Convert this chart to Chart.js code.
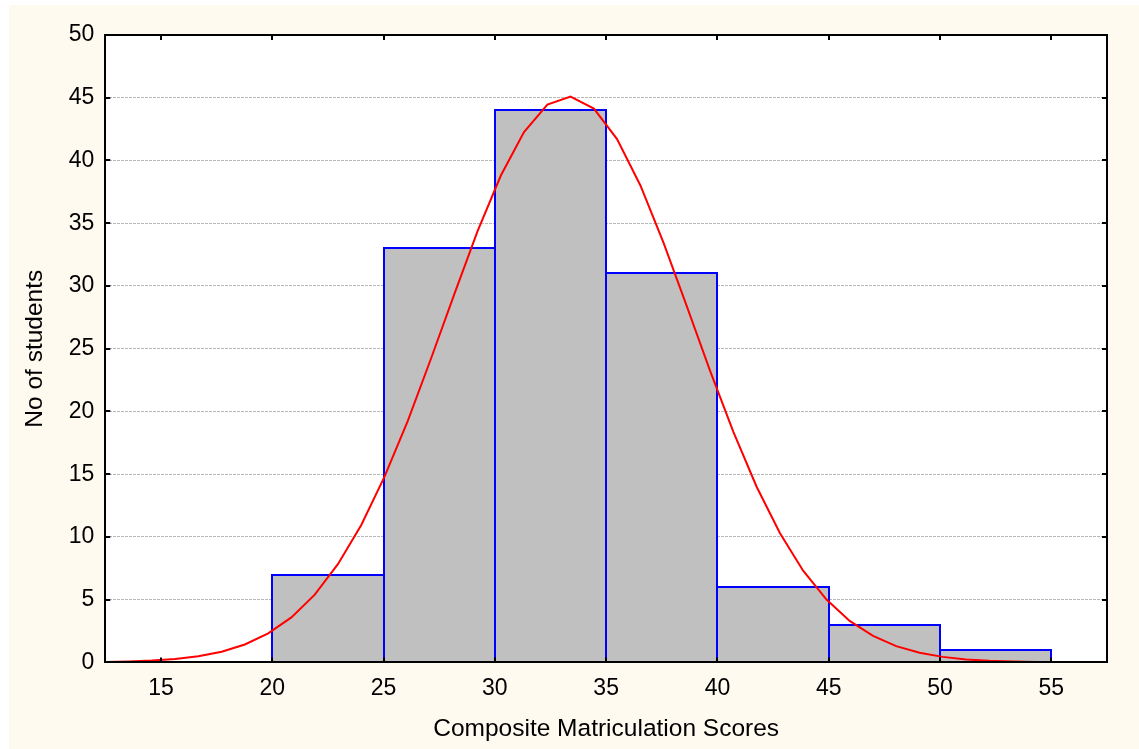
<!DOCTYPE html>
<html>
<head>
<meta charset="utf-8">
<script src="https://cdn.jsdelivr.net/npm/chart.js@4.4.1/dist/chart.umd.min.js"></script>
<style>
  html, body { margin: 0; padding: 0; background: #ffffff; }
  canvas { display: block; }
</style>
</head>
<body>
<canvas id="c" width="1139" height="749"></canvas>
<script>
// ---- data ----
const binEdges = [20, 25, 30, 35, 40, 45, 50, 55];
const binCounts = [7, 33, 44, 31, 6, 3, 1];

const curveX = [12.5, 13.55, 14.59, 15.64, 16.68, 17.73, 18.77, 19.82, 20.86, 21.91,
                22.95, 24.0, 25.04, 26.09, 27.13, 28.18, 29.22, 30.27, 31.31, 32.36,
                33.4, 34.45, 35.49, 36.54, 37.58, 38.63, 39.67, 40.72, 41.76, 42.81,
                43.85, 44.9, 45.94, 46.99, 48.03, 49.08, 50.12, 51.17, 52.21, 53.26,
                54.3, 55.35, 56.39, 57.44];
const curveY = [0.04, 0.08, 0.15, 0.28, 0.49, 0.85, 1.43, 2.31, 3.59, 5.40,
                7.83, 10.95, 14.78, 19.25, 24.20, 29.35, 34.35, 38.80, 42.27, 44.45,
                45.09, 44.14, 41.70, 38.01, 33.43, 28.36, 23.23, 18.36, 14.00, 10.30,
                7.31, 5.01, 3.31, 2.11, 1.30, 0.77, 0.44, 0.24, 0.13, 0.07,
                0.03, 0.02, 0.01, 0.00];

const xTicks = [15, 20, 25, 30, 35, 40, 45, 50, 55];
const yTicks = [0, 5, 10, 15, 20, 25, 30, 35, 40, 45, 50];
const xTitle = 'Composite Matriculation Scores';
const yTitle = 'No of students';

// ---- chart ----
Chart.defaults.font.family = "'Liberation Sans', Arial, sans-serif";
Chart.defaults.color = '#000000';

const framePlugin = {
  id: 'framePlugin',
  beforeDraw(chart) {
    const { ctx, chartArea: a, width, height } = chart;
    ctx.save();
    ctx.fillStyle = '#ffffff';
    ctx.fillRect(0, 0, width, height);
    ctx.fillStyle = '#fffaf0';
    ctx.fillRect(9, 5, width - 9, height - 5);
    ctx.fillStyle = '#ffffff';
    ctx.fillRect(a.left, a.top, a.right - a.left, a.bottom - a.top);
    ctx.restore();
  },
  afterDatasetDraw(chart, args) {
    const meta = args.meta;
    if (meta.type !== 'bar') return;
    const ctx = chart.ctx;
    ctx.save();
    ctx.strokeStyle = '#0000ff';
    ctx.lineWidth = 2;
    ctx.lineJoin = 'miter';
    meta.data.forEach(el => {
      const p = el.getProps(['x', 'y', 'base', 'width'], true);
      const l = Math.round(p.x - p.width / 2);
      const r = Math.round(p.x + p.width / 2);
      const t = Math.round(p.y);
      const b = Math.round(p.base);
      ctx.beginPath();
      ctx.moveTo(l, b);
      ctx.lineTo(l, t);
      ctx.lineTo(r, t);
      ctx.lineTo(r, b);
      ctx.stroke();
    });
    ctx.restore();
  },
  afterDraw(chart) {
    const { ctx, chartArea: a, scales } = chart;
    const x = scales.x, y = scales.y;
    ctx.save();
    ctx.strokeStyle = '#000000';
    ctx.lineWidth = 2;
    ctx.strokeRect(Math.round(a.left), Math.round(a.top), Math.round(a.right) - Math.round(a.left), Math.round(a.bottom) - Math.round(a.top));
    ctx.beginPath();
    xTicks.forEach(v => {
      const px = Math.round(x.getPixelForValue(v));
      ctx.moveTo(px, a.top); ctx.lineTo(px, a.top + 5);
      ctx.moveTo(px, a.bottom); ctx.lineTo(px, a.bottom - 5);
    });
    yTicks.forEach(v => {
      const py = Math.round(y.getPixelForValue(v));
      ctx.moveTo(a.left, py); ctx.lineTo(a.left + 5, py);
      ctx.moveTo(a.right, py); ctx.lineTo(a.right - 5, py);
    });
    ctx.stroke();
    ctx.restore();
  }
};

new Chart(document.getElementById('c'), {
  type: 'bar',
  data: {
    datasets: [
      {
        type: 'line',
        order: 0,
        data: curveX.map((v, i) => ({ x: v, y: curveY[i] })),
        borderColor: '#ff0000',
        borderWidth: 2,
        pointRadius: 0,
        tension: 0,
        fill: false
      },
      {
        type: 'bar',
        order: 1,
        data: binCounts.map((c, i) => ({ x: (binEdges[i] + binEdges[i + 1]) / 2, y: c })),
        backgroundColor: '#c0c0c0',
        borderWidth: 0,
        barPercentage: 1,
        categoryPercentage: 1
      }
    ]
  },
  options: {
    responsive: false,
    animation: false,
    events: [],
    layout: { padding: { top: 35, right: 32, bottom: 4.6, left: 0 } },
    plugins: { legend: { display: false }, tooltip: { enabled: false } },
    scales: {
      x: {
        type: 'linear',
        offset: false,
        min: 12.5,
        max: 57.5,
        afterBuildTicks: (scale) => { scale.ticks = xTicks.map(v => ({ value: v })); },
        grid: { display: false, drawTicks: false },
        border: { display: false },
        ticks: { font: { size: 23 }, padding: 12, maxRotation: 0, autoSkip: false, color: '#000' },
        title: { display: true, text: xTitle, font: { size: 24.5 }, padding: { top: 1, bottom: 0 }, color: '#000' }
      },
      y: {
        type: 'linear',
        min: 0,
        max: 50,
        afterBuildTicks: (scale) => { scale.ticks = yTicks.map(v => ({ value: v })); },
        grid: { color: '#b8b8b8', lineWidth: 1, drawTicks: false },
        border: { display: false, dash: [3, 1] },
        ticks: { font: { size: 23 }, padding: 11, color: '#000' },
        title: { display: true, text: yTitle, font: { size: 24.5 }, padding: { top: 20.3, bottom: 8 }, color: '#000' }
      }
    }
  },
  plugins: [framePlugin]
});
</script>
</body>
</html>
